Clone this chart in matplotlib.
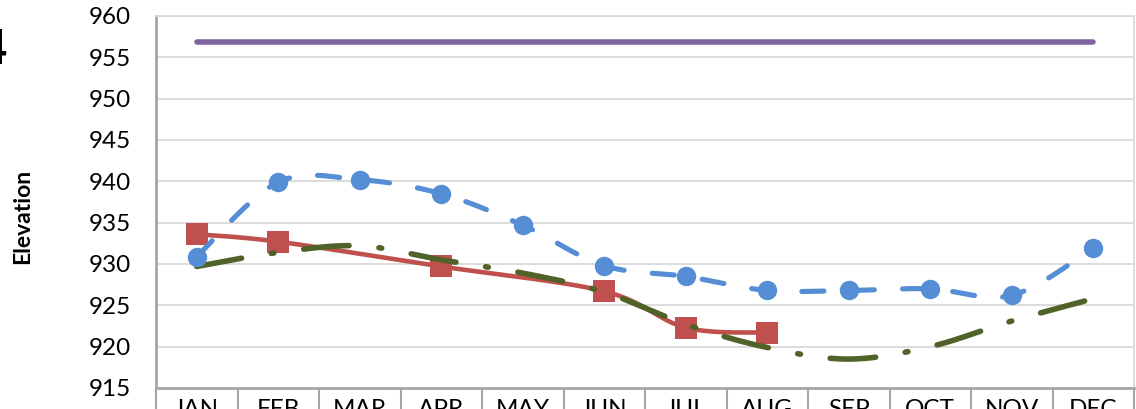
import numpy as np
import matplotlib
matplotlib.use("Agg")
import matplotlib.pyplot as plt
from matplotlib.ticker import FixedLocator, NullFormatter

months = ['JAN', 'FEB', 'MAR', 'APR', 'MAY', 'JUN', 'JUL', 'AUG', 'SEP', 'OCT', 'NOV', 'DEC']
blue_vals = [930.9, 939.9, 940.2, 938.5, 934.7, 929.8, 928.5, 926.8, 926.8, 927.0, 926.2, 931.9]
red_vals = [933.6, 932.7, np.nan, 929.7, np.nan, 926.7, 922.3, 921.7, np.nan, np.nan, np.nan, np.nan]
green_vals = [929.7, 931.4, 932.2, 930.5, 928.9, 926.6, 922.7, 919.9, 918.5, 920.0, 923.1, 925.8]
purple_vals = [956.8] * 12
y_ticks = [915, 920, 925, 930, 935, 940, 945, 950, 955, 960]

plt.rcParams['font.family'] = ['Lato', 'DejaVu Sans']


def smooth(xs, ys, n=30):
    xs = np.asarray(xs, float)
    ys = np.asarray(ys, float)
    ok = ~np.isnan(ys)
    xs, ys = xs[ok], ys[ok]
    if len(xs) < 3:
        return xs, ys
    px = np.concatenate([[xs[0]], xs, [xs[-1]]])
    py = np.concatenate([[ys[0]], ys, [ys[-1]]])
    outx, outy = [], []
    for i in range(1, len(px) - 2):
        p0x, p1x, p2x, p3x = px[i - 1], px[i], px[i + 1], px[i + 2]
        p0y, p1y, p2y, p3y = py[i - 1], py[i], py[i + 1], py[i + 2]
        c1x = p1x + (p2x - p0x) / 6
        c1y = p1y + (p2y - p0y) / 6
        c2x = p2x - (p3x - p1x) / 6
        c2y = p2y - (p3y - p1y) / 6
        t = np.linspace(0, 1, n)
        bx = (1 - t) ** 3 * p1x + 3 * (1 - t) ** 2 * t * c1x + 3 * (1 - t) * t ** 2 * c2x + t ** 3 * p2x
        by = (1 - t) ** 3 * p1y + 3 * (1 - t) ** 2 * t * c1y + 3 * (1 - t) * t ** 2 * c2y + t ** 3 * p2y
        if i > 1:
            bx, by = bx[1:], by[1:]
        outx.extend(bx)
        outy.extend(by)
    return np.array(outx), np.array(outy)


W, H = 1136, 409
fig = plt.figure(figsize=(W / 100, H / 100), dpi=100)
ax = fig.add_axes([156 / W, 1 - 388 / H, (1134 - 156) / W, (388 - 16) / H])

x = np.arange(len(months))

BLUE = '#558ED5'
RED = '#C0504D'
GREEN = '#4F6228'
PURPLE = '#8064A2'

# red series
sx, sy = smooth(x, red_vals)
ax.plot(sx, sy, color=RED, lw=3.3, solid_capstyle='round', zorder=2)
ax.plot(x, red_vals, ls='none', marker='s', ms=16.5, color=RED, mec=RED, mew=0, zorder=2.1)

# green series
gx, gy = smooth(x, green_vals)
ax.plot(gx, gy, color=GREEN, lw=4.0, dash_capstyle='round', dashes=(8.2, 5.4, 0.5, 5.4), zorder=3)

# blue series
bx, by = smooth(x, blue_vals)
ax.plot(bx, by, color=BLUE, lw=3.7, dash_capstyle='round', dashes=(4.3, 5.5), zorder=4)
ax.plot(x, blue_vals, ls='none', marker='o', ms=14, color=BLUE, mew=0, zorder=4.1)

# purple series
ax.plot(x, purple_vals, color=PURPLE, lw=4.0, solid_capstyle='round', zorder=5)

ax.set_xlim(-0.5, 11.5)
ax.set_ylim(915, 960)
ax.set_yticks(y_ticks)
ax.set_yticklabels([str(v) for v in y_ticks])
ax.tick_params(axis='y', length=0, pad=18, labelsize=17.5, labelcolor='#000000')
ax.yaxis.grid(True, color='#D9D9D9', lw=1.3)
ax.set_axisbelow(True)

ax.set_xticks(x)
ax.set_xticklabels(months)
ax.xaxis.set_minor_locator(FixedLocator(np.arange(-0.5, 12, 1.0)))
ax.xaxis.set_minor_formatter(NullFormatter())
ax.tick_params(axis='x', which='major', length=0, pad=8, labelsize=17.5)
ax.tick_params(axis='x', which='minor', length=25, width=1.5, color='#A6A6A6', direction='out')

for side in ['top', 'right']:
    ax.spines[side].set_color('#D9D9D9')
    ax.spines[side].set_linewidth(1.3)
ax.spines['left'].set_color('#A6A6A6')
ax.spines['left'].set_linewidth(2.0)
ax.spines['bottom'].set_color('#A6A6A6')
ax.spines['bottom'].set_linewidth(2.0)

fig.text(23 / W, 1 - 216 / H, 'Elevation', rotation=90, ha='center', va='center',
         fontsize=16.5, fontweight='bold')
fig.text(7 / W, 1 - 50 / H, '4', ha='right', va='center', fontsize=34, fontweight='bold')

fig.savefig('out.png', dpi=100)
